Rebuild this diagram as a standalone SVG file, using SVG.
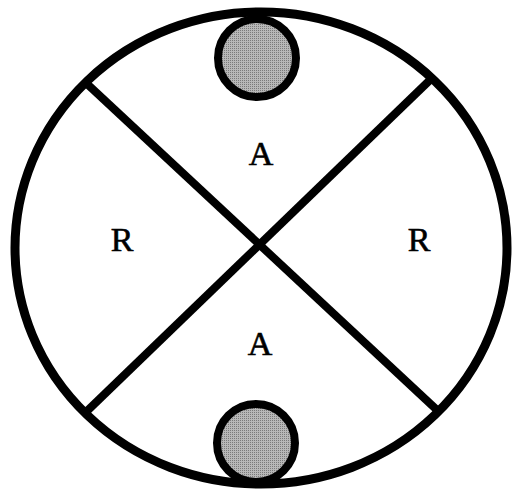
<svg xmlns="http://www.w3.org/2000/svg" width="519" height="493" viewBox="0 0 519 493">
<defs>
<pattern id="stip" width="2" height="2" patternUnits="userSpaceOnUse">
<rect width="2" height="2" fill="#b8b8b8"/>
<rect width="1" height="1" fill="#7a7a7a"/>
</pattern>
<style>
.outline{fill:none;stroke:#000;stroke-width:9}
.ball{fill:url(#stip);stroke:#000;stroke-width:8}
.line{stroke:#000;stroke-width:8;stroke-linecap:butt}
.lbl{font-family:"Liberation Serif","Times New Roman",serif;font-size:34px;fill:#000;stroke:#000;stroke-width:0.6;text-anchor:middle}
</style>
</defs>
<rect width="519" height="493" fill="#fff"/>
<g id="outer"><ellipse class="outline" cx="261" cy="248" rx="246" ry="236"/></g>
<g id="connectors">
<line class="line" x1="85" y1="82" x2="437" y2="410"/>
<line class="line" x1="430" y1="80" x2="85" y2="413"/>
</g>
<g id="ball-top"><circle class="ball" cx="257" cy="58" r="39"/></g>
<g id="ball-bottom"><circle class="ball" cx="256" cy="443" r="39"/></g>
<g id="label-top"><text class="lbl" x="261" y="165">A</text></g>
<g id="label-bottom"><text class="lbl" x="260" y="355">A</text></g>
<g id="label-left"><text class="lbl" x="122" y="251">R</text></g>
<g id="label-right"><text class="lbl" x="419" y="251">R</text></g>
</svg>
